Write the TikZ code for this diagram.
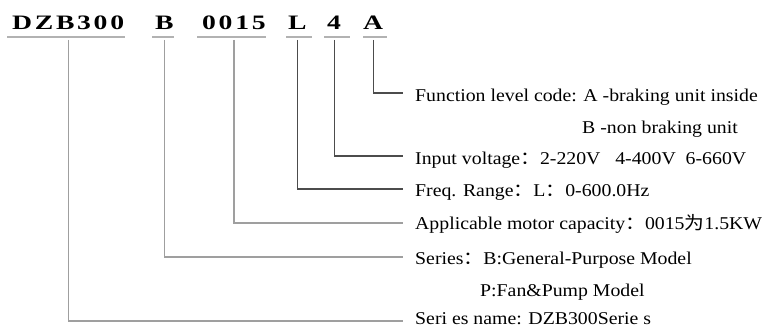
\documentclass[tikz,border=0pt]{standalone}
\usepackage{fontspec}
\setmainfont{Liberation Serif}
\newfontfamily\cjk{Noto Sans CJK SC}
\newcommand{\wide}[1]{\scalebox{1.1}[1]{#1}}
\begin{document}
\begin{tikzpicture}[x=1pt,y=-1pt,
  ttl/.style={anchor=base west,inner sep=0pt,font=\fontsize{20.5}{24}\selectfont\bfseries},
  lbl/.style={anchor=base west,inner sep=0pt,font=\fontsize{18}{20}\selectfont},
  uline/.style={draw=gray!60,line width=1.8pt},
  conn/.style={draw=black!70,line width=1.2pt},
  connl/.style={draw=gray!75,line width=1.2pt}]
\useasboundingbox (0,0) rectangle (769,328);
% title parts
\node[ttl] (t1) at (12,30) {\scalebox{1.35}[1]{D\kern2pt Z\kern2pt B\kern2pt 3\kern2pt 0\kern2pt 0}};
\node[ttl] (t2) at (155,30) {\scalebox{1.35}[1]{B}};
\node[ttl] (t3) at (202,30) {\scalebox{1.35}[1]{0\kern2pt 0\kern2pt 1\kern2pt 5}};
\node[ttl] (t4) at (288,30) {\scalebox{1.35}[1]{L}};
\node[ttl] (t5) at (327,30) {\scalebox{1.35}[1]{4}};
\node[ttl] (t6) at (363,30) {\scalebox{1.35}[1]{A}};
% underlines
\draw[uline] (7,37) -- (125,37);
\draw[uline] (152,37) -- (174,37);
\draw[uline] (197,37) -- (266,37);
\draw[uline] (286,37) -- (312,37);
\draw[uline] (324,37) -- (350,37);
\draw[uline] (363,37) -- (387,37);
% labels
\node[lbl] (l1) at (415,102) {\wide{Function level code: A -braking unit inside}};
\node[lbl] (l1b) at (582,134) {\wide{B -non braking unit}};
\node[lbl] (l2) at (415,165) {\wide{Input voltage{\cjk ：}2-220V\ \ \ 4-400V\ \ 6-660V}};
\node[lbl] (l3) at (415,197) {\wide{Freq. Range{\cjk ：}L{\cjk ：}0-600.0Hz}};
\node[lbl] (l4) at (415,230) {\wide{Applicable motor capacity{\cjk ：}0015{\cjk 为}1.5KW}};
\node[lbl] (l5) at (415,265) {\wide{Series{\cjk ：}B:General-Purpose Model}};
\node[lbl] (l5b) at (480,297) {\wide{P:Fan\&Pump Model}};
\node[lbl] (l6) at (415,325) {\wide{Seri es name: DZB300Serie s}};
% end points of connectors
\coordinate (e1) at (403,93);
\coordinate (e2) at (403,156);
\coordinate (e3) at (403,189);
\coordinate (e4) at (403,223);
\coordinate (e5) at (403,257);
\coordinate (e6) at (403,321);
% connectors
\draw[conn] (t6.south |- 0,40) |- (e1);
\draw[conn] (t5.south |- 0,40) |- (e2);
\draw[conn] (t4.south |- 0,40) |- (e3);
\draw[connl] (t3.south |- 0,40) |- (e4);
\draw[connl] (t2.south |- 0,40) |- (e5);
\draw[connl] (t1.south |- 0,40) |- (e6);
\end{tikzpicture}
\end{document}
